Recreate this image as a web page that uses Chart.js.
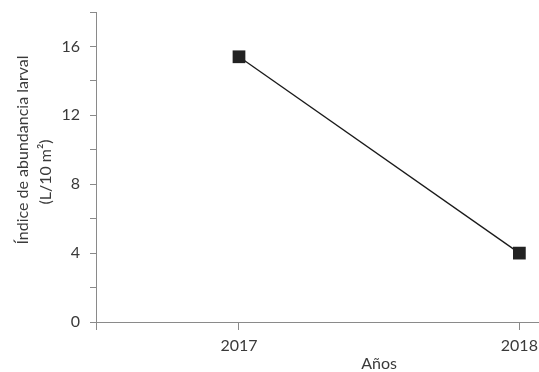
<!DOCTYPE html>
<html>
<head>
<meta charset="utf-8">
<script src="https://cdn.jsdelivr.net/npm/chart.js@4/dist/chart.umd.min.js"></script>
<style>
  html, body { margin: 0; padding: 0; background: #fff; }
  #wrap { width: 539px; height: 372px; }
</style>
</head>
<body>
<div id="wrap"><canvas id="c" width="539" height="372"></canvas></div>
<script>
// Larval abundance index per year
const years = [2017, 2018];
const abundance = [15.4, 4.0];
const yTicksLabelled = [0, 4, 8, 12, 16];
const yTitle = ['Índice de abundancia larval', '(L/10 m²)'];
const xTitle = 'Años';

const X_MIN = 2016.49;
const X_MAX = 2018.07;

const axisColor = '#8a8a8a';
const textColor = '#3a3a3a';
const fontFamily = 'Lato, "Open Sans", sans-serif';

// Axis titles: x title centred between the years, y title as two rotated lines
const titlesPlugin = {
  id: 'axisTitles',
  afterDraw(chart) {
    const xs = chart.scales.x;
    const ctx = chart.ctx;
    ctx.save();
    ctx.font = '16px ' + fontFamily;
    ctx.fillStyle = textColor;
    ctx.textAlign = 'center';
    ctx.textBaseline = 'middle';
    ctx.fillText(xTitle, xs.getPixelForValue(2017.5), 364);

    const rows = [{ x: 23, y: 150 }, { x: 46, y: 172 }];
    yTitle.forEach((t, i) => {
      ctx.save();
      ctx.translate(rows[i].x, rows[i].y);
      ctx.rotate(-Math.PI / 2);
      ctx.fillText(t, 0, 0);
      ctx.restore();
    });
    ctx.restore();
  }
};

new Chart(document.getElementById('c'), {
  type: 'line',
  data: {
    datasets: [{
      data: years.map((y, i) => ({ x: y, y: abundance[i] })),
      borderColor: '#1a1a1a',
      borderWidth: 1.3,
      pointStyle: 'rect',
      pointRadius: 9,
      pointBackgroundColor: '#222',
      pointBorderColor: '#222',
      pointBorderWidth: 0,
      tension: 0,
      fill: false,
      clip: false
    }]
  },
  options: {
    responsive: false,
    animation: false,
    layout: { autoPadding: false, padding: { top: 12, right: 0, left: 0, bottom: 0 } },
    plugins: { legend: { display: false }, tooltip: { enabled: false } },
    scales: {
      x: {
        type: 'linear',
        min: X_MIN,
        max: X_MAX,
        afterBuildTicks(scale) { scale.ticks = [X_MIN, ...years].map(v => ({ value: v })); },
        afterFit(scale) {
          scale.height = 50;
          scale.paddingLeft = 0;
          scale.paddingRight = 0;
        },
        ticks: {
          color: textColor,
          font: { family: fontFamily, size: 16 },
          padding: 6,
          maxRotation: 0,
          autoSkip: false,
          callback: v => years.includes(v) ? String(v) : ''
        },
        grid: { drawOnChartArea: false, tickLength: 8, color: axisColor, lineWidth: 1 },
        border: { display: true, color: axisColor, width: 1 }
      },
      y: {
        min: 0,
        max: 18,
        afterFit(scale) {
          scale.width = 96;
          scale.paddingTop = 0;
          scale.paddingBottom = 0;
        },
        ticks: {
          stepSize: 2,
          color: textColor,
          font: { family: fontFamily, size: 16 },
          padding: 10,
          callback: v => yTicksLabelled.includes(v) ? String(v) : ''
        },
        grid: { drawOnChartArea: false, tickLength: 6, color: axisColor, lineWidth: 1 },
        border: { display: true, color: axisColor, width: 1 }
      }
    }
  },
  plugins: [titlesPlugin]
});
</script>
</body>
</html>
